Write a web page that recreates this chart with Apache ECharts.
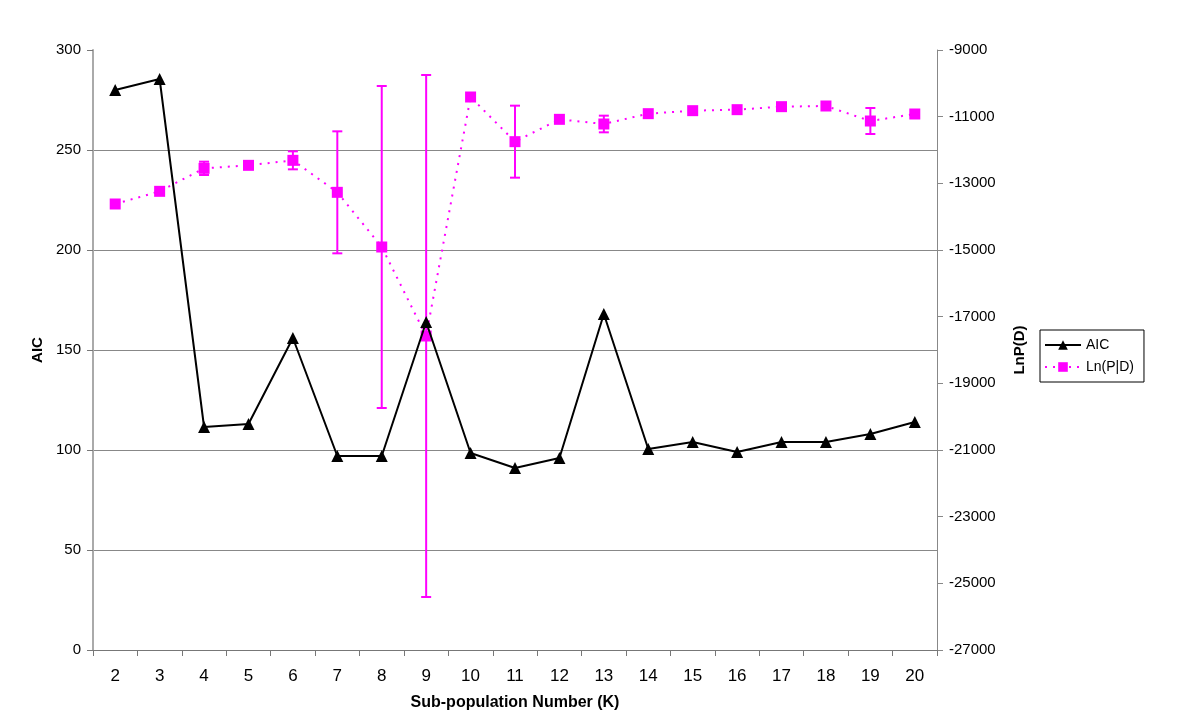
<!DOCTYPE html>
<html>
<head>
<meta charset="utf-8">
<script src="https://cdn.jsdelivr.net/npm/echarts@6/dist/echarts.min.js"></script>
<style>
html,body{margin:0;padding:0;background:#fff;}
#chart{width:1200px;height:728px;}
</style>
</head>
<body>
<div id="chart"></div>
<script>
var categories = ['2','3','4','5','6','7','8','9','10','11','12','13','14','15','16','17','18','19','20'];
var aic = [280, 285.5, 111.5, 113, 156, 97, 97, 164, 98.5, 91, 96, 168, 100.5, 104, 99, 104, 104, 108, 114];
var lnpd = [-13620, -13240, -12550, -12460, -12310, -13270, -14910, -17580, -10410, -11750, -11080, -11220, -10910, -10820, -10790, -10700, -10680, -11130, -10920];
var lnpdErr = [0, 0, 200, 0, 270, 1830, 4830, 7830, 0, 1080, 0, 250, 0, 0, 0, 0, 0, 390, 0];
var aicTicks = [0, 50, 100, 150, 200, 250, 300];
var lnTicks = [-27000, -25000, -23000, -21000, -19000, -17000, -15000, -13000, -11000, -9000];

var MAG = '#FF00FF';
var errData = [];
for (var i = 0; i < categories.length; i++) {
  if (lnpdErr[i] > 0) errData.push([i, lnpd[i] - lnpdErr[i], lnpd[i] + lnpdErr[i]]);
}

var chart = echarts.init(document.getElementById('chart'), null, {renderer: 'canvas'});
var labelFont = '"Liberation Sans", Arial, Helvetica, sans-serif';
var narrowFont = '"Liberation Sans Narrow", "Arial Narrow", "Liberation Sans", Arial, sans-serif';
chart.setOption({
  animation: false,
  backgroundColor: '#fff',
  grid: {left: 93, right: 263, top: 50, bottom: 78, containLabel: false},
  legend: {
    orient: 'vertical',
    left: 1040, top: 330,
    padding: [8, 10, 8, 4],
    borderColor: '#000', borderWidth: 1,
    itemWidth: 36, itemHeight: 12, itemGap: 8,
    textStyle: {fontFamily: labelFont, fontSize: 14, color: '#000'},
    data: ['AIC', 'Ln(P|D)']
  },
  xAxis: {
    type: 'category',
    data: categories,
    boundaryGap: true,
    name: 'Sub-population Number (K)',
    nameLocation: 'middle',
    nameGap: 45,
    nameTextStyle: {fontFamily: narrowFont, fontWeight: 'bold', fontSize: 16, color: '#000'},
    axisLine: {lineStyle: {color: '#777', width: 1}},
    axisTick: {show: true, inside: false, length: 6, alignWithLabel: false, lineStyle: {color: '#777'}},
    axisLabel: {fontFamily: narrowFont, fontSize: 17, color: '#000', margin: 18, interval: 0},
    splitLine: {show: false}
  },
  yAxis: [{
    type: 'value',
    min: aicTicks[0], max: aicTicks[aicTicks.length - 1], interval: 50,
    position: 'left',
    name: 'AIC',
    nameLocation: 'middle',
    nameGap: 40,
    nameRotate: 90,
    nameTextStyle: {fontFamily: labelFont, fontWeight: 'bold', fontSize: 15, color: '#000'},
    axisLine: {show: true, lineStyle: {color: '#aaa', width: 2}},
    axisTick: {show: true, length: 6, lineStyle: {color: '#777'}},
    axisLabel: {fontFamily: labelFont, fontSize: 15, color: '#000', margin: 12},
    splitLine: {show: true, showMinLine: false, showMaxLine: false, lineStyle: {color: '#888', width: 1}}
  }, {
    type: 'value',
    min: lnTicks[0], max: lnTicks[lnTicks.length - 1], interval: 2000,
    position: 'right',
    name: 'LnP(D)',
    nameLocation: 'middle',
    nameGap: 75,
    nameRotate: 90,
    nameTextStyle: {fontFamily: labelFont, fontWeight: 'bold', fontSize: 15, color: '#000'},
    axisLine: {show: true, lineStyle: {color: '#888', width: 1}},
    axisTick: {show: true, length: 6, lineStyle: {color: '#888'}},
    axisLabel: {fontFamily: labelFont, fontSize: 15, color: '#000', margin: 12,
      formatter: function (v) { return String(v); }},
    splitLine: {show: false}
  }],
  series: [{
    name: 'Ln(P|D) error',
    type: 'custom',
    yAxisIndex: 1,
    z: 1,
    silent: true,
    data: errData,
    renderItem: function (params, api) {
      var x = api.value(0);
      var lo = api.coord([x, api.value(1)]);
      var hi = api.coord([x, api.value(2)]);
      var hw = 5;
      var st = {stroke: MAG, lineWidth: 2, fill: null};
      return {
        type: 'group',
        children: [
          {type: 'line', shape: {x1: lo[0], y1: lo[1], x2: hi[0], y2: hi[1]}, style: st},
          {type: 'line', shape: {x1: lo[0] - hw, y1: lo[1], x2: lo[0] + hw, y2: lo[1]}, style: st},
          {type: 'line', shape: {x1: hi[0] - hw, y1: hi[1], x2: hi[0] + hw, y2: hi[1]}, style: st}
        ]
      };
    }
  }, {
    name: 'Ln(P|D)',
    type: 'line',
    yAxisIndex: 1,
    z: 2,
    data: lnpd,
    symbol: 'rect',
    symbolSize: 11,
    itemStyle: {color: MAG},
    lineStyle: {color: MAG, width: 2, type: [2, 6]}
  }, {
    name: 'AIC',
    type: 'line',
    yAxisIndex: 0,
    z: 3,
    data: aic,
    symbol: 'triangle',
    symbolSize: 12,
    itemStyle: {color: '#000'},
    lineStyle: {color: '#000', width: 2}
  }]
});
</script>
</body>
</html>
